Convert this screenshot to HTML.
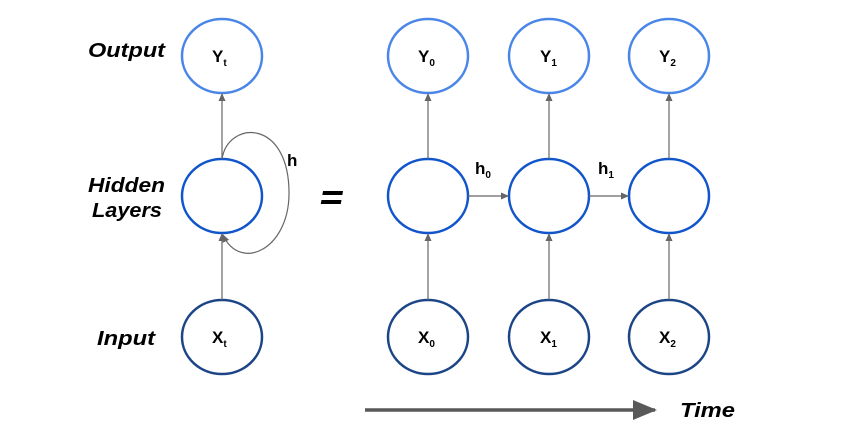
<!DOCTYPE html>
<html><head><style>
html,body{margin:0;padding:0;background:#fff;width:850px;height:435px;overflow:hidden}
text{font-family:"Liberation Sans",sans-serif;font-weight:bold;fill:#000}
.lab{font-style:italic;font-size:20px}
</style></head><body>
<svg width="850" height="435" viewBox="0 0 850 435" xmlns="http://www.w3.org/2000/svg">
<defs>
<marker id="a" markerWidth="8" markerHeight="8" refX="7" refY="4" orient="auto" markerUnits="userSpaceOnUse"><path d="M0,0.5 L8,4 L0,7.5 z" fill="#666"/></marker>
<marker id="b" markerWidth="24" markerHeight="24" refX="22" refY="10" orient="auto" markerUnits="userSpaceOnUse"><path d="M0,0 L24,10 L0,20 z" fill="#595959"/></marker>
</defs>
<g fill="none" stroke-width="2.5">
<g stroke="#4a86e8"><ellipse cx="222" cy="56" rx="40" ry="37"/><ellipse cx="428" cy="56" rx="40" ry="37"/><ellipse cx="549" cy="56" rx="40" ry="37"/><ellipse cx="669" cy="56" rx="40" ry="37"/></g>
<g stroke="#1155cc"><ellipse cx="222" cy="196" rx="40" ry="37"/><ellipse cx="428" cy="196" rx="40" ry="37"/><ellipse cx="549" cy="196" rx="40" ry="37"/><ellipse cx="669" cy="196" rx="40" ry="37"/></g>
<g stroke="#1c4587"><ellipse cx="222" cy="337" rx="40" ry="37"/><ellipse cx="428" cy="337" rx="40" ry="37"/><ellipse cx="549" cy="337" rx="40" ry="37"/><ellipse cx="669" cy="337" rx="40" ry="37"/></g>
</g>
<g stroke="#666" stroke-width="1.2" fill="none" marker-end="url(#a)">
<line x1="222" y1="159" x2="222" y2="94"/><line x1="428" y1="159" x2="428" y2="94"/><line x1="549" y1="159" x2="549" y2="94"/><line x1="669" y1="159" x2="669" y2="94"/>
<line x1="222" y1="300" x2="222" y2="234"/><line x1="428" y1="300" x2="428" y2="234"/><line x1="549" y1="300" x2="549" y2="234"/><line x1="669" y1="300" x2="669" y2="234"/>
<line x1="468" y1="196" x2="508" y2="196"/><line x1="589" y1="196" x2="628" y2="196"/>
<path d="M222,159 C228,120 290,118 289,195 C288,250 240,272 223,235"/>
</g>
<line x1="365" y1="410" x2="655" y2="410" stroke="#595959" stroke-width="3.5" marker-end="url(#b)"/>
<text class="lab" x="88" y="57" textLength="77" lengthAdjust="spacingAndGlyphs">Output</text>
<text class="lab" x="88" y="192" textLength="77" lengthAdjust="spacingAndGlyphs">Hidden</text>
<text class="lab" x="92" y="217" textLength="70" lengthAdjust="spacingAndGlyphs">Layers</text>
<text class="lab" x="97" y="345" textLength="58" lengthAdjust="spacingAndGlyphs">Input</text>
<text class="lab" x="680" y="417" textLength="55" lengthAdjust="spacingAndGlyphs">Time</text>
<rect x="322" y="191" width="20" height="4" fill="#000" transform="skewX(-10)" transform-origin="332 197"/>
<rect x="322" y="200" width="20" height="4" fill="#000" transform="skewX(-10)" transform-origin="332 197"/>
<g font-size="17">
<text x="212" y="62">Y<tspan font-size="10" dy="4">t</tspan></text>
<text x="418" y="62">Y<tspan font-size="10" dy="4">0</tspan></text>
<text x="540" y="62">Y<tspan font-size="10" dy="4">1</tspan></text>
<text x="659" y="62">Y<tspan font-size="10" dy="4">2</tspan></text>
<text x="212" y="343">X<tspan font-size="10" dy="4">t</tspan></text>
<text x="418" y="343">X<tspan font-size="10" dy="4">0</tspan></text>
<text x="540" y="343">X<tspan font-size="10" dy="4">1</tspan></text>
<text x="659" y="343">X<tspan font-size="10" dy="4">2</tspan></text>
<text x="287" y="166">h</text>
<text x="475" y="174">h<tspan font-size="10" dy="4">0</tspan></text>
<text x="598" y="174">h<tspan font-size="10" dy="4">1</tspan></text>
</g>
</svg>
</body></html>
